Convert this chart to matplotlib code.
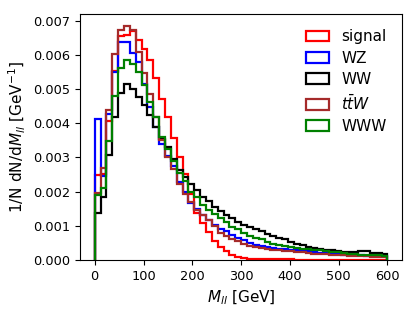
import numpy as np
import matplotlib
matplotlib.use("Agg")
import matplotlib.pyplot as plt

# 50 bins of 12 GeV between 0 and 600
bin_edges = np.linspace(0, 600, 51)

# bin heights, 1/N dN/dM_ll in units of 1e-3 GeV^-1
signal = [2.47, 2.50, 4.05, 5.53, 6.55, 6.58, 6.70, 6.42, 6.18, 5.84,
          5.33, 4.70, 4.17, 3.57, 3.00, 2.50, 1.94, 1.36, 1.07, 0.82,
          0.55, 0.38, 0.25, 0.14, 0.09, 0.06, 0.04, 0.03, 0.03, 0.02,
          0.02, 0.02, 0.015, 0.015, 0.01, 0.01, 0.01, 0.01, 0.01, 0.01,
          0.008, 0.008, 0.008, 0.006, 0.006, 0.006, 0.005, 0.005, 0.005, 0.005]
wz = [4.12, 2.45, 4.27, 5.50, 6.37, 6.37, 6.05, 5.79, 5.16, 4.48,
      3.89, 3.40, 3.05, 2.75, 2.28, 1.99, 1.65, 1.48, 1.31, 1.18,
      1.03, 0.89, 0.84, 0.74, 0.65, 0.58, 0.50, 0.45, 0.42, 0.38,
      0.36, 0.33, 0.31, 0.30, 0.28, 0.26, 0.25, 0.23, 0.20, 0.19,
      0.17, 0.16, 0.15, 0.15, 0.14, 0.13, 0.12, 0.11, 0.11, 0.10]
ww = [1.36, 1.84, 3.07, 4.17, 4.87, 5.14, 5.01, 4.77, 4.53, 4.23,
      3.89, 3.53, 3.30, 2.95, 2.62, 2.43, 2.22, 2.04, 1.85, 1.72,
      1.55, 1.42, 1.32, 1.23, 1.10, 1.03, 0.95, 0.89, 0.84, 0.76,
      0.69, 0.64, 0.60, 0.52, 0.47, 0.44, 0.39, 0.35, 0.31, 0.30,
      0.30, 0.26, 0.24, 0.23, 0.23, 0.26, 0.25, 0.20, 0.19, 0.18]
ttw = [1.97, 2.70, 4.39, 6.03, 6.73, 6.85, 6.72, 6.08, 5.47, 4.85,
       4.18, 3.50, 3.00, 2.67, 2.23, 1.94, 1.70, 1.45, 1.30, 1.16,
       0.98, 0.79, 0.71, 0.62, 0.55, 0.47, 0.42, 0.38, 0.35, 0.33,
       0.30, 0.29, 0.27, 0.25, 0.24, 0.22, 0.20, 0.18, 0.17, 0.16,
       0.15, 0.14, 0.13, 0.12, 0.11, 0.10, 0.10, 0.09, 0.09, 0.08]
www = [1.89, 2.09, 3.49, 4.80, 5.60, 5.85, 5.74, 5.50, 5.11, 4.62,
       4.18, 3.60, 3.25, 2.90, 2.55, 2.30, 2.00, 1.85, 1.60, 1.45,
       1.33, 1.23, 1.10, 0.97, 0.89, 0.79, 0.71, 0.64, 0.60, 0.52,
       0.47, 0.43, 0.41, 0.37, 0.36, 0.33, 0.32, 0.29, 0.28, 0.25,
       0.23, 0.22, 0.20, 0.18, 0.17, 0.15, 0.14, 0.13, 0.13, 0.12]

labels = ["signal", "WZ", "WW", r"$t\bar{t}W$", "WWW"]
colors = ["red", "blue", "black", "brown", "green"]
series = [signal, wz, ww, ttw, www]

fig = plt.figure(figsize=(4.15, 3.12), dpi=100)
ax = fig.add_axes([0.193, 0.167, 0.776, 0.788])

centers = 0.5 * (bin_edges[:-1] + bin_edges[1:])
for vals, lab, col in zip(series, labels, colors):
    ax.hist(centers, bins=bin_edges, weights=np.array(vals) * 1e-3,
            histtype="step", color=col, linewidth=1.6, label=lab)

ax.set_xlabel(r"$M_{ll}$ [GeV]", fontsize=11)
ax.set_ylabel(r"1/N dN/d$M_{ll}$ [GeV$^{-1}$]", fontsize=11)
ax.tick_params(labelsize=9.3)
ax.legend(fontsize=11, frameon=False, loc="upper right", labelspacing=0.42,
          handlelength=1.5, borderaxespad=0.6)

fig.savefig("out.png", dpi=100)
